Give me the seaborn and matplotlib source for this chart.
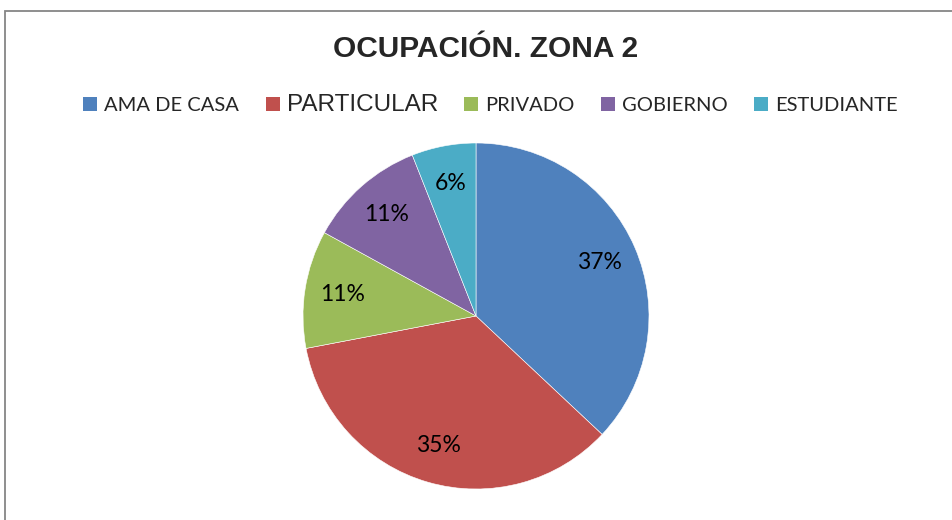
import matplotlib
matplotlib.use("Agg")
import matplotlib.pyplot as plt
import matplotlib.patches as mpatches
import seaborn as sns

# datos
categorias = ["AMA DE CASA", "PARTICULAR", "PRIVADO", "GOBIERNO", "ESTUDIANTE"]
valores = [37, 35, 11, 11, 6]
colores = ["#4F81BD", "#C0504D", "#9BBB59", "#8064A2", "#4BACC6"]
titulo = "OCUPACIÓN. ZONA 2"

sns.set_theme(style="white")
plt.rcParams['font.family'] = ['Lato', 'DejaVu Sans']

W, H = 953, 520
fig = plt.figure(figsize=(W / 100, H / 100), dpi=100)

# marco gris del grafico
marco = mpatches.Rectangle((4.5 / W, -0.1), 1.2, (H - 10.5) / H + 0.1,
                           transform=fig.transFigure, fill=False,
                           edgecolor="#868686", linewidth=1.3)
fig.patches.append(marco)

# pastel
cx, cy, r = 476, 316, 173
ax = fig.add_axes([(cx - r) / W, (H - cy - r) / H, 2 * r / W, 2 * r / H])
wedges, textos, pcts = ax.pie(valores, colors=colores, startangle=90, counterclock=False,
                              autopct="%1.0f%%", pctdistance=0.78,
                              wedgeprops=dict(linewidth=0.4, edgecolor="white"),
                              textprops=dict(fontsize=16.5, color="black", family="Lato"))
ax.set_xlim(-1, 1)
ax.set_ylim(-1, 1)
ax.set_aspect("equal")
ax.axis("off")

fig.text(0.5 + 9 / W, 1 - 49 / H, titulo, ha="center", va="center",
         fontsize=21.5, fontweight="bold", family="Liberation Sans")

handles = [mpatches.Patch(facecolor=c, edgecolor="none") for c in colores]
leg = fig.legend(handles, categorias, loc="center", ncol=5,
                 bbox_to_anchor=(490.5 / W, 1 - 105 / H), frameon=False,
                 handlelength=0.7, handleheight=0.7, handletextpad=0.35,
                 columnspacing=1.3, fontsize=14.5)
for i, t in enumerate(leg.get_texts()):
    if i == 1:
        t.set_fontsize(17.5)
        t.set_family("Liberation Sans")

fig.savefig("out.png", dpi=100, facecolor="white")
